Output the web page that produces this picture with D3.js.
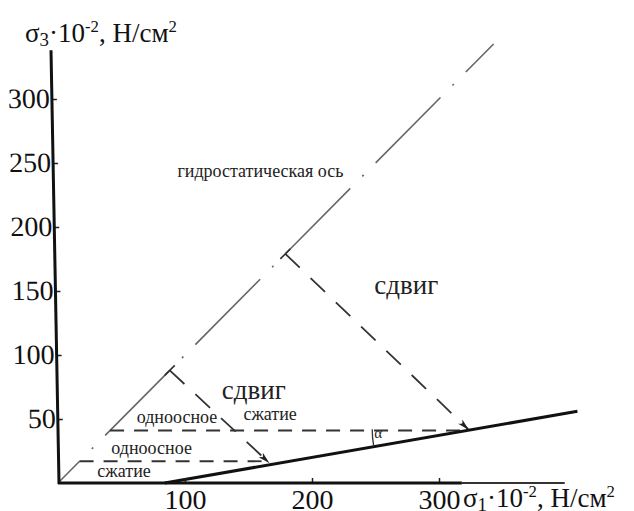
<!DOCTYPE html>
<html>
<head>
<meta charset="utf-8">
<script src="https://cdn.jsdelivr.net/npm/d3@7"></script>
<style>
  html, body { margin: 0; padding: 0; background: #fff; }
  svg { display: block; }
</style>
</head>
<body>
<svg id="chart" width="634" height="511"></svg>
<script>
// Principal stresses, units of 10^2 N/cm^2
const sigma1Ticks = [100, 200, 300];
const sigma3Ticks = [50, 100, 150, 200, 250, 300];

// Hydrostatic axis sigma1 = sigma3
const hydrostaticAxis = [[0, 0], [343, 343]];
// Limiting (failure) line
const failureLine = [[84, 0], [409, 56]];
// Shear paths, from the hydrostatic axis to the failure line
const shearPaths = [
  [[88, 88], [166, 16]],
  [[179, 179], [323, 42]]
];
// Uniaxial compression paths (constant sigma3)
const uniaxialPaths = [
  [[17, 17], [166, 17]],
  [[41, 41], [323, 41]]
];
// Text annotations, anchored in stress units
const annotations = [
  { text: "гидростатическая ось", s1: 94, s3: 239, cls: "small" },
  { text: "сдвиг", s1: 129, s3: 66, cls: "big" },
  { text: "сдвиг", s1: 249, s3: 148, cls: "big" },
  { text: "одноосное", s1: 62, s3: 47, cls: "mid" },
  { text: "сжатие", s1: 146, s3: 49.5, cls: "mid" },
  { text: "одноосное", s1: 42, s3: 23, cls: "mid" },
  { text: "сжатие", s1: 31, s3: 4.5, cls: "mid" },
  { text: "α", s1: 249, s3: 35, cls: "tiny" }
];

const FONT = "'Liberation Serif', 'Tinos', 'Times New Roman', serif";
const svg = d3.select("#chart");

const x = d3.scaleLinear().domain([0, 400]).range([58, 566]);
const y = d3.scaleLinear().domain([0, 300]).range([483, 99]);
const line = d3.line().x(d => x(d[0])).y(d => y(d[1]));

// arrow head for the loading paths
svg.append("defs").append("marker")
  .attr("id", "arrow")
  .attr("viewBox", "0 0 12 8")
  .attr("refX", 11).attr("refY", 4)
  .attr("markerWidth", 12).attr("markerHeight", 8)
  .attr("markerUnits", "userSpaceOnUse")
  .attr("orient", "auto")
  .append("path")
  .attr("d", "M0,1 L12,4 L0,7 L3,4 Z")
  .attr("fill", "#222");

// hydrostatic axis, dash-dot
svg.append("path")
  .attr("d", line(hydrostaticAxis))
  .attr("fill", "none")
  .attr("stroke", "#666")
  .attr("stroke-width", 1.6)
  .attr("stroke-dasharray", "92,17,2,17")
  .attr("stroke-dashoffset", 61);

// uniaxial compression paths
svg.selectAll(".uni").data(uniaxialPaths).join("path")
  .attr("class", "uni")
  .attr("d", d => line(d))
  .attr("fill", "none")
  .attr("stroke", "#333")
  .attr("stroke-width", 1.8)
  .attr("stroke-dasharray", "14,10");

// shear paths
svg.selectAll(".shear").data(shearPaths).join("path")
  .attr("class", "shear")
  .attr("d", d => line(d))
  .attr("fill", "none")
  .attr("stroke", "#333")
  .attr("stroke-width", 1.8)
  .attr("stroke-dasharray", "20,15")
  .attr("marker-end", "url(#arrow)");

// small bar where each shear path leaves the hydrostatic axis
svg.selectAll(".bar").data(shearPaths).join("path")
  .attr("class", "bar")
  .attr("d", d => {
    const px = x(d[0][0]), py = y(d[0][1]);
    return `M${px - 5},${py + 5}L${px + 5},${py - 5}`;
  })
  .attr("stroke", "#333")
  .attr("stroke-width", 1.6);

// failure line
svg.append("path")
  .attr("d", line(failureLine))
  .attr("fill", "none")
  .attr("stroke", "#111")
  .attr("stroke-width", 3);

// angle alpha between failure line and the upper uniaxial path
{
  const c = shearPaths[1][1];
  const cx = x(c[0]), cy = y(c[1]);
  const r = 96;
  const ang = Math.atan((y(failureLine[0][1]) - y(failureLine[1][1])) / (x(failureLine[1][0]) - x(failureLine[0][0])));
  svg.append("path")
    .attr("d", `M${cx - r},${cy}A${r},${r} 0 0 0 ${cx - r * Math.cos(ang)},${cy + r * Math.sin(ang)}`)
    .attr("fill", "none")
    .attr("stroke", "#333")
    .attr("stroke-width", 1.3);
}

// sigma3 axis, hand-drawn with a slight lean to the left
const lean = Math.atan(8 / 433) * 180 / Math.PI;
const yAxis = d3.axisLeft(y).tickValues(sigma3Ticks).tickSize(0).tickPadding(2).tickFormat(d3.format("d"));
const gy = svg.append("g")
  .attr("transform", `translate(${x(0) + 1},${y(0)}) skewX(${lean}) translate(0,${-y(0)})`)
  .call(yAxis);
gy.select(".domain").remove();
gy.selectAll(".tick line").attr("x1", 0).attr("x2", 5).attr("stroke", "#222").attr("stroke-width", 1.5);
gy.selectAll(".tick text").style("font-family", FONT).style("font-size", "28px").attr("fill", "#111");
gy.append("line").attr("x1", 0).attr("x2", 0).attr("y1", y(0) + 1).attr("y2", y(338))
  .attr("stroke", "#111").attr("stroke-width", 3);

// sigma1 axis
const xAxis = d3.axisBottom(x).tickValues(sigma1Ticks).tickSize(0).tickPadding(6).tickFormat(d3.format("d"));
const gx = svg.append("g").attr("transform", `translate(0,${y(0)})`).call(xAxis);
gx.select(".domain").remove();
gx.selectAll(".tick line").attr("y1", 0).attr("y2", -5).attr("stroke", "#222").attr("stroke-width", 1.5);
gx.selectAll(".tick text").style("font-family", FONT).style("font-size", "28px").attr("fill", "#111");
gx.append("line").attr("x1", x(0)).attr("x2", x(318)).attr("y1", 0).attr("y2", 0)
  .attr("stroke", "#111").attr("stroke-width", 3);
gx.append("line").attr("x1", x(318)).attr("x2", x(399)).attr("y1", 0).attr("y2", 0)
  .attr("stroke", "#333").attr("stroke-width", 1.8);

// axis titles
function axisTitle(sel, sub) {
  sel.append("tspan").text("σ");
  sel.append("tspan").style("font-size", "70%").attr("dy", 4).text(sub);
  sel.append("tspan").attr("dy", -4).text("·10");
  sel.append("tspan").style("font-size", "62%").attr("dy", -10).text("-2");
  sel.append("tspan").attr("dy", 10).text(", Н/см");
  sel.append("tspan").style("font-size", "62%").attr("dy", -10).text("2");
}
svg.append("text").attr("x", 25).attr("y", 42)
  .style("font-family", FONT).style("font-size", "27px").attr("fill", "#111")
  .call(axisTitle, "3");
svg.append("text").attr("x", 463).attr("y", 507)
  .style("font-family", FONT).style("font-size", "27px").attr("fill", "#111")
  .call(axisTitle, "1");

// annotations
const sizes = { small: 18, big: 27, mid: 18, tiny: 15 };
svg.selectAll(".note").data(annotations).join("text")
  .attr("class", "note")
  .attr("x", d => x(d.s1))
  .attr("y", d => y(d.s3))
  .style("font-family", FONT)
  .style("font-size", d => sizes[d.cls] + "px")
  .attr("fill", "#222")
  .text(d => d.text);
</script>
</body>
</html>
